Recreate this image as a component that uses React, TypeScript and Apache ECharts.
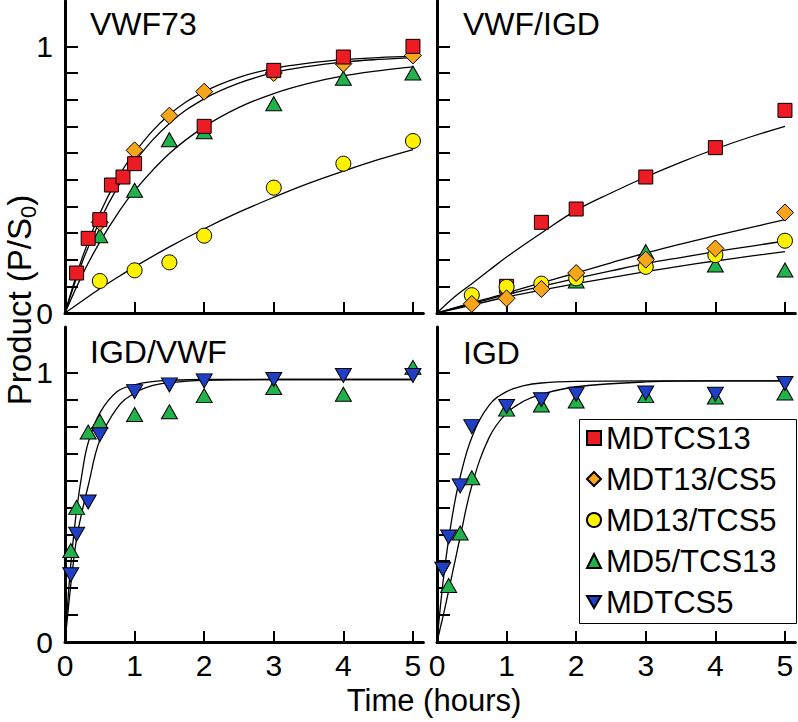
import React, { useEffect, useRef } from "react";
import * as echarts from "echarts";

// ---------- DATA ----------
const seriesNames = ["MDTCS13", "MDT13/CS5", "MD13/TCS5", "MD5/TCS13", "MDTCS5"];
const panelTitles = ["VWF73", "VWF/IGD", "IGD/VWF", "IGD"];
const xTickValues = [0, 1, 2, 3, 4, 5];
const yTickValues = [0, 0.1, 0.2, 0.3, 0.4, 0.5, 0.6, 0.7, 0.8, 0.9, 1.0];
const yLabelValues = [0, 1];
const xTitle = "Time (hours)";

// Panel 1: VWF73
const tVWF73_MDTCS13 = [0.167, 0.333, 0.5, 0.667, 0.833, 1, 2, 3, 4, 5];
const pVWF73_MDTCS13 = [0.15, 0.28, 0.35, 0.48, 0.51, 0.56, 0.7, 0.91, 0.96, 1.0];
const tVWF73_other = [0.5, 1, 1.5, 2, 3, 4, 5];
const pVWF73_MDT13CS5 = [0.34, 0.61, 0.74, 0.83, 0.9, 0.935, 0.966];
const pVWF73_MD13TCS5 = [0.12, 0.16, 0.19, 0.29, 0.47, 0.56, 0.645];
const pVWF73_MD5TCS13 = [0.29, 0.46, 0.65, 0.68, 0.785, 0.88, 0.9];

// Panel 2: VWF/IGD
const tVWFIGD_MDTCS13 = [1, 1.5, 2, 3, 4, 5];
const pVWFIGD_MDTCS13 = [0.1, 0.34, 0.39, 0.51, 0.62, 0.76];
const tVWFIGD_other = [0.5, 1, 1.5, 2, 3, 4, 5];
const pVWFIGD_MDT13CS5 = [0.034, 0.055, 0.09, 0.15, 0.2, 0.242, 0.377];
const pVWFIGD_MD13TCS5 = [0.067, 0.098, 0.11, 0.13, 0.173, 0.217, 0.271];
const tVWFIGD_MD5TCS13 = [2, 3, 4, 5];
const pVWFIGD_MD5TCS13 = [0.12, 0.23, 0.18, 0.161];

// Panel 3: IGD/VWF
const tIGDVWF = [0.083, 0.167, 0.333, 0.5, 1, 1.5, 2, 3, 4, 5];
const pIGDVWF_MD5TCS13 = [0.34, 0.5, 0.78, 0.82, 0.845, 0.855, 0.915, 0.945, 0.92, 1.02];
const pIGDVWF_MDTCS5 = [0.25, 0.4, 0.52, 0.77, 0.93, 0.955, 0.97, 0.975, 0.99, 0.99];

// Panel 4: IGD
const tIGD_MDTCS5 = [0.083, 0.167, 0.333, 0.5, 1, 1.5, 2, 3, 4, 5];
const pIGD_MDTCS5 = [0.27, 0.39, 0.58, 0.8, 0.875, 0.9, 0.92, 0.925, 0.92, 0.96];
const tIGD_MD5TCS13 = [0.167, 0.333, 0.5, 1, 1.5, 2, 3, 4, 5];
const pIGD_MD5TCS13 = [0.21, 0.405, 0.61, 0.865, 0.88, 0.895, 0.915, 0.91, 0.925];

// Fitted curves
const tFitTop = [0, 0.25, 0.5, 0.75, 1, 1.5, 2, 2.5, 3, 3.5, 4, 4.5, 5];
const fitVWF73_MDTCS13 = [0, 0.192, 0.345, 0.469, 0.568, 0.711, 0.803, 0.862, 0.901, 0.925, 0.941, 0.951, 0.958];
const fitVWF73_MDT13CS5 = [0, 0.209, 0.373, 0.501, 0.602, 0.744, 0.83, 0.884, 0.917, 0.937, 0.95, 0.958, 0.962];
const fitVWF73_MD13TCS5 = [0, 0.046, 0.091, 0.133, 0.173, 0.248, 0.316, 0.378, 0.434, 0.486, 0.532, 0.575, 0.613];
const fitVWF73_MD5TCS13 = [0, 0.144, 0.266, 0.37, 0.459, 0.598, 0.698, 0.771, 0.823, 0.861, 0.889, 0.908, 0.923];
const fitVWFIGD_MDTCS13 = [0, 0.06, 0.11, 0.16, 0.21, 0.3, 0.385, 0.45, 0.51, 0.565, 0.615, 0.66, 0.7];
const fitVWFIGD_MDT13CS5 = [0, 0.019, 0.038, 0.056, 0.075, 0.113, 0.15, 0.188, 0.225, 0.258, 0.29, 0.32, 0.35];
const fitVWFIGD_MD13TCS5 = [0, 0.018, 0.035, 0.052, 0.069, 0.1, 0.13, 0.158, 0.185, 0.208, 0.23, 0.25, 0.27];
const fitVWFIGD_MD5TCS13 = [0, 0.015, 0.03, 0.045, 0.06, 0.086, 0.11, 0.133, 0.155, 0.176, 0.195, 0.213, 0.23];

const tFitBottom = [0, 0.05, 0.1, 0.167, 0.25, 0.333, 0.5, 0.75, 1, 1.25, 1.5, 2, 3, 4, 5];
const fitIGDVWF_MD5TCS13 = [0, 0.184, 0.334, 0.49, 0.634, 0.74, 0.85, 0.93, 0.955, 0.967, 0.972, 0.975, 0.975, 0.975, 0.975];
const fitIGDVWF_MDTCS5 = [0, 0.13, 0.25, 0.385, 0.49, 0.58, 0.75, 0.87, 0.925, 0.952, 0.963, 0.972, 0.975, 0.975, 0.975];
const fitIGD_MDTCS5 = [0, 0.135, 0.251, 0.381, 0.512, 0.613, 0.76, 0.88, 0.93, 0.952, 0.962, 0.968, 0.97, 0.97, 0.97];
const fitIGD_MD5TCS13 = [0, 0.055, 0.11, 0.19, 0.29, 0.39, 0.58, 0.76, 0.85, 0.895, 0.92, 0.948, 0.966, 0.97, 0.97];

// ---------- STYLE ----------
const FONT = "'Liberation Sans', Arial, Helvetica, sans-serif";
const INV_TRI = "path://M0,0L20,0L10,17Z";
const markStyle: Record<string, any> = {
  MDTCS13: { symbol: "rect", size: [14, 14], color: "#ed1c24", icon: "rect" },
  "MDT13/CS5": { symbol: "diamond", size: [17, 17], color: "#f7a61c", icon: "diamond" },
  "MD13/TCS5": { symbol: "circle", size: 15, color: "#fff200", icon: "circle" },
  "MD5/TCS13": { symbol: "triangle", size: [16, 14], color: "#22b24c", icon: "triangle" },
  MDTCS5: { symbol: INV_TRI, size: [16, 14], color: "#1e3fc6", icon: INV_TRI },
};

const X_MAX = 5.15;
const Y_MAX = 1.17;
const grids = [
  { left: 65, top: 1, width: 358.4, height: 312 },
  { left: 437, top: 1, width: 358.4, height: 312 },
  { left: 65, top: 327, width: 358.4, height: 315 },
  { left: 437, top: 327, width: 358.4, height: 315 },
];

function pairs(ts: number[], vs: number[]) {
  return ts.map((t, i) => [t, vs[i]]);
}

function scatter(name: string, gi: number, ts: number[], vs: number[]) {
  const s = markStyle[name];
  return {
    type: "scatter",
    name,
    xAxisIndex: gi,
    yAxisIndex: gi,
    data: pairs(ts, vs),
    symbol: s.symbol,
    symbolSize: s.size,
    itemStyle: { color: s.color, borderColor: "#000", borderWidth: 1, opacity: 1 },
    emphasis: { disabled: true },
    silent: true,
    z: 3,
  };
}

function fit(gi: number, ts: number[], vs: number[]) {
  return {
    type: "line",
    name: "fit",
    xAxisIndex: gi,
    yAxisIndex: gi,
    data: pairs(ts, vs),
    smooth: 0.4,
    symbol: "none",
    showSymbol: false,
    lineStyle: { color: "#000", width: 1.3 },
    emphasis: { disabled: true },
    silent: true,
    z: 2,
  };
}

export default function App() {
  const ref = useRef<HTMLDivElement>(null);
  useEffect(() => {
    if (!ref.current) return;
    const chart = echarts.init(ref.current, undefined, { renderer: "svg" });

    const xAxes = grids.map((_, i) => ({
      type: "value",
      gridIndex: i,
      min: 0,
      max: X_MAX,
      axisLine: { show: true, onZero: false, lineStyle: { color: "#000", width: 3 } },
      axisTick: {
        show: true,
        inside: true,
        length: 11,
        customValues: xTickValues,
        lineStyle: { color: "#000", width: 2 },
      },
      axisLabel: {
        show: i >= 2,
        customValues: xTickValues,
        fontSize: 30,
        fontFamily: FONT,
        color: "#000",
        margin: 8,
      },
      splitLine: { show: false },
    }));

    const yAxes = grids.map((_, i) => ({
      type: "value",
      gridIndex: i,
      min: 0,
      max: Y_MAX,
      axisLine: { show: true, onZero: false, lineStyle: { color: "#000", width: 3 } },
      axisTick: {
        show: true,
        inside: true,
        length: 13,
        customValues: yTickValues,
        lineStyle: { color: "#000", width: 2 },
      },
      axisLabel: {
        show: i % 2 === 0,
        customValues: yLabelValues,
        fontSize: 30,
        fontFamily: FONT,
        color: "#000",
        margin: 12,
      },
      splitLine: { show: false },
    }));

    const series: any[] = [
      // VWF73
      fit(0, tFitTop, fitVWF73_MD13TCS5),
      fit(0, tFitTop, fitVWF73_MD5TCS13),
      fit(0, tFitTop, fitVWF73_MDT13CS5),
      fit(0, tFitTop, fitVWF73_MDTCS13),
      scatter("MD13/TCS5", 0, tVWF73_other, pVWF73_MD13TCS5),
      scatter("MD5/TCS13", 0, tVWF73_other, pVWF73_MD5TCS13),
      scatter("MDT13/CS5", 0, tVWF73_other, pVWF73_MDT13CS5),
      scatter("MDTCS13", 0, tVWF73_MDTCS13, pVWF73_MDTCS13),
      // VWF/IGD
      fit(1, tFitTop, fitVWFIGD_MDTCS13),
      fit(1, tFitTop, fitVWFIGD_MDT13CS5),
      fit(1, tFitTop, fitVWFIGD_MD13TCS5),
      fit(1, tFitTop, fitVWFIGD_MD5TCS13),
      scatter("MDTCS13", 1, tVWFIGD_MDTCS13, pVWFIGD_MDTCS13),
      scatter("MD5/TCS13", 1, tVWFIGD_MD5TCS13, pVWFIGD_MD5TCS13),
      scatter("MD13/TCS5", 1, tVWFIGD_other, pVWFIGD_MD13TCS5),
      scatter("MDT13/CS5", 1, tVWFIGD_other, pVWFIGD_MDT13CS5),
      // IGD/VWF
      fit(2, tFitBottom, fitIGDVWF_MD5TCS13),
      fit(2, tFitBottom, fitIGDVWF_MDTCS5),
      scatter("MD5/TCS13", 2, tIGDVWF, pIGDVWF_MD5TCS13),
      scatter("MDTCS5", 2, tIGDVWF, pIGDVWF_MDTCS5),
      // IGD
      fit(3, tFitBottom, fitIGD_MDTCS5),
      fit(3, tFitBottom, fitIGD_MD5TCS13),
      scatter("MD5/TCS13", 3, tIGD_MD5TCS13, pIGD_MD5TCS13),
      scatter("MDTCS5", 3, tIGD_MDTCS5, pIGD_MDTCS5),
    ];

    const titlePos = [
      { x: 90, y: 24 },
      { x: 463, y: 24 },
      { x: 90, y: 352 },
      { x: 463, y: 353 },
    ];

    const graphic: any[] = [
      ...panelTitles.map((t, i) => ({
        type: "text",
        x: titlePos[i].x,
        y: titlePos[i].y,
        silent: true,
        style: {
          text: t,
          fontSize: 32,
          fontFamily: FONT,
          fill: "#000",
          align: "left",
          verticalAlign: "middle",
        },
      })),
      {
        type: "text",
        x: 434,
        y: 700,
        silent: true,
        style: {
          text: xTitle,
          fontSize: 31,
          fontFamily: FONT,
          fill: "#000",
          align: "center",
          verticalAlign: "middle",
        },
      },
      {
        type: "text",
        x: 19,
        y: 300,
        rotation: Math.PI / 2,
        silent: true,
        style: {
          text: "{a|Product (P/S}{b|0}{a|)}",
          fontFamily: FONT,
          fill: "#000",
          align: "center",
          verticalAlign: "middle",
          rich: {
            a: { fontSize: 33, lineHeight: 40, fontFamily: FONT, fill: "#000" },
            b: { fontSize: 22, lineHeight: 14, verticalAlign: "bottom", fontFamily: FONT, fill: "#000" },
          },
        },
      },
      {
        type: "rect",
        silent: true,
        shape: { x: 579.5, y: 419.5, width: 217, height: 204 },
        style: { fill: "#fff", stroke: "#000", lineWidth: 1 },
        z: 5,
      },
    ];

    chart.setOption({
      animation: false,
      backgroundColor: "#fff",
      grid: grids,
      xAxis: xAxes,
      yAxis: yAxes,
      series,
      graphic,
      legend: {
        orient: "vertical",
        left: 586,
        top: 422.5,
        padding: 0,
        itemGap: 10,
        itemWidth: 14,
        itemHeight: 14,
        selectedMode: false,
        z: 10,
        textStyle: { fontSize: 31, lineHeight: 31, fontFamily: FONT, color: "#000" },
        data: seriesNames.map((n) => ({ name: n, icon: markStyle[n].icon })),
      },
    });

    return () => chart.dispose();
  }, []);

  return (
    <div
      ref={ref}
      style={{ position: "fixed", left: 0, top: 0, width: 798, height: 722, background: "#fff" }}
    />
  );
}
